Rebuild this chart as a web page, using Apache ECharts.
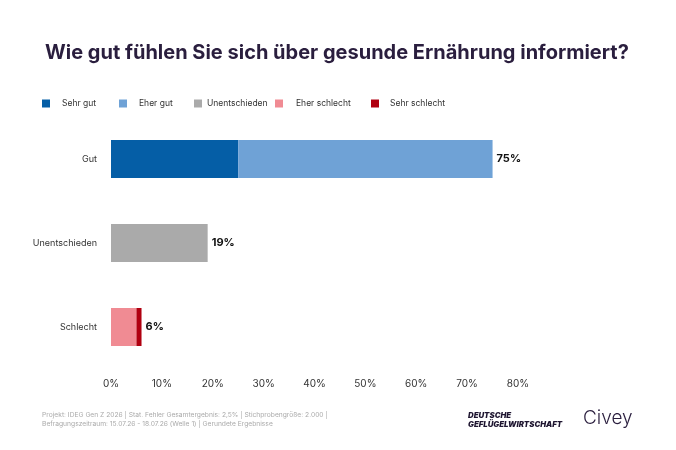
<!DOCTYPE html>
<html>
<head>
<meta charset="utf-8">
<script src="https://cdn.jsdelivr.net/npm/echarts@6/dist/echarts.min.js"></script>
<style>
  html, body { margin: 0; padding: 0; background: #fff; }
  #chart { width: 676px; height: 450px; }
</style>
</head>
<body>
<div id="chart"></div>
<script>
// categories and values
const categories = ['Gut', 'Unentschieden', 'Schlecht'];
const sehrGut = [25, 0, 0];
const eherGut = [50, 0, 0];
const unentschieden = [0, 19, 0];
const eherSchlecht = [0, 0, 5];
const sehrSchlecht = [0, 0, 1];
const totalLabels = ['75%', '19%', '6%'];
const xTicks = [0, 10, 20, 30, 40, 50, 60, 70, 80];

const seriesDefs = [
    { name: 'Sehr gut', data: sehrGut, color: '#055ea6' },
    { name: 'Eher gut', data: eherGut, color: '#6fa2d6' },
    { name: 'Unentschieden', data: unentschieden, color: '#aaaaaa' },
    { name: 'Eher schlecht', data: eherSchlecht, color: '#f08b93' },
    { name: 'Sehr schlecht', data: sehrSchlecht, color: '#b00010' }
];

// the total label goes on the last non-empty segment of every row
function lastSeriesIndex(row) {
    let last = -1;
    seriesDefs.forEach((s, i) => { if (s.data[row] > 0) last = i; });
    return last;
}
const lastIdx = categories.map((c, row) => lastSeriesIndex(row));

const series = seriesDefs.map((s, i) => ({
    name: s.name,
    type: 'bar',
    stack: 'total',
    barWidth: 38,
    itemStyle: { color: s.color },
    emphasis: { disabled: true },
    data: s.data.map((v, row) => ({
        value: v,
        label: {
            show: lastIdx[row] === i,
            position: 'right',
            distance: 4,
            formatter: () => totalLabels[row],
            color: '#111111',
            fontFamily: 'Inter',
            fontWeight: 'bold',
            fontSize: 11
        }
    }))
}));

// one legend block per entry so each sits where the reference has it
const legendLefts = [42, 119, 194, 275, 371];
const legendPads = [7, 7, 0, 8, 6];
const legends = seriesDefs.map((s, i) => ({
    left: legendLefts[i],
    top: 99,
    padding: 0,
    data: [s.name],
    icon: 'rect',
    itemWidth: 8,
    itemHeight: 8,
    selectedMode: false,
    textStyle: {
        fontFamily: 'Inter',
        fontSize: 8.5,
        color: '#333333',
        padding: [0, 0, 0, legendPads[i]]
    }
}));

const chart = echarts.init(document.getElementById('chart'));
chart.setOption({
    animation: false,
    backgroundColor: '#ffffff',
    title: {
        text: 'Wie gut fühlen Sie sich über gesunde Ernährung informiert?',
        left: 40,
        top: 38,
        textStyle: {
            fontFamily: 'Inter',
            fontWeight: 'bold',
            fontSize: 20,
            color: '#2a1e3e'
        }
    },
    legend: legends,
    grid: { left: 111, right: 158, top: 117, bottom: 81, containLabel: false },
    xAxis: {
        type: 'value',
        min: xTicks[0],
        max: xTicks[xTicks.length - 1],
        interval: 10,
        axisLine: { show: false },
        axisTick: { show: false },
        splitLine: { show: false },
        axisLabel: {
            formatter: '{value}%',
            fontFamily: 'Inter',
            fontSize: 10,
            color: '#333333',
            margin: 10
        }
    },
    yAxis: {
        type: 'category',
        inverse: true,
        data: categories,
        axisLine: { show: false },
        axisTick: { show: false },
        axisLabel: {
            fontFamily: 'Inter',
            fontSize: 9,
            color: '#333333',
            margin: 14
        }
    },
    series: series,
    graphic: [
        {
            type: 'text',
            left: 42,
            top: 410,
            style: {
                text: 'Projekt: IDEG Gen Z 2026 | Stat. Fehler Gesamtergebnis: 2,5% | Stichprobengröße: 2.000 |\nBefragungszeitraum: 15.07.26 - 18.07.26 (Welle 1) | Gerundete Ergebnisse',
                font: '6.7px Inter',
                lineHeight: 9,
                fill: '#aaaaaa'
            }
        },
        {
            type: 'text',
            left: 468,
            top: 411,
            style: {
                text: 'DEUTSCHE\nGEFLÜGELWIRTSCHAFT',
                font: 'italic 900 7.8px Inter',
                lineHeight: 9,
                fill: '#1e1530'
            }
        },
        {
            type: 'text',
            left: 583,
            top: 409,
            style: {
                text: 'Civey',
                font: '300 19px Inter',
                fill: '#2a1e3e'
            }
        }
    ]
});
</script>
</body>
</html>
